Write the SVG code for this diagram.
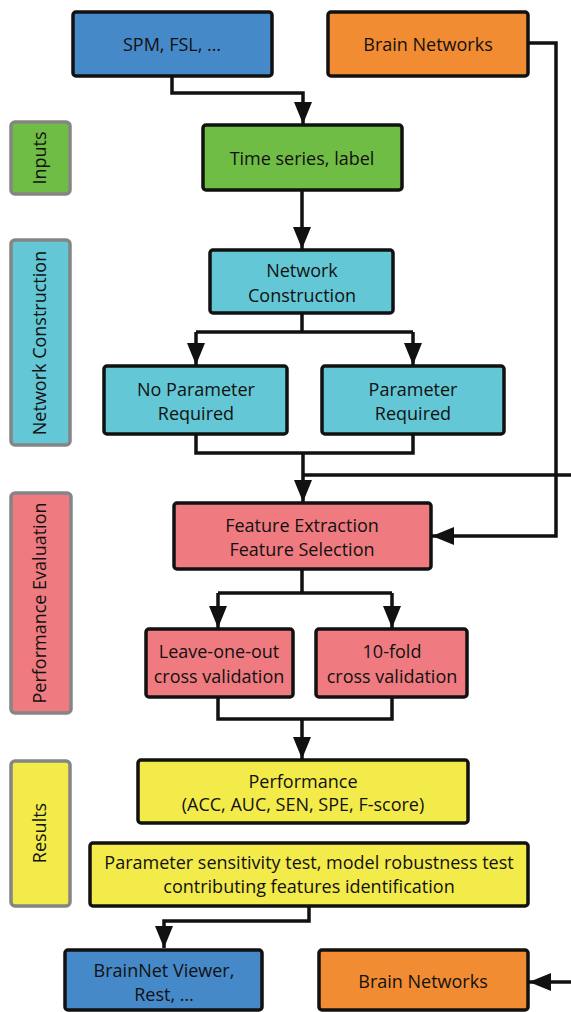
<svg xmlns="http://www.w3.org/2000/svg" width="571" height="1012" viewBox="0 0 571 1012">
<style>
.box{stroke:#111;stroke-width:3.5}
.side{stroke:#858585;stroke-width:3.5}
.blue{fill:#4689c8}
.orange{fill:#f28c33}
.green{fill:#70bd45}
.cyan{fill:#63c7d5}
.pink{fill:#ef7b80}
.yellow{fill:#f3eb4a}
text{font-family:"Open Sans","Liberation Sans",sans-serif;font-size:18px;fill:#111;text-anchor:middle}
.conn{fill:none;stroke:#111;stroke-width:3.5}
</style>
<defs>
<marker id="arr" markerUnits="userSpaceOnUse" markerWidth="22" markerHeight="18" refX="22" refY="9" orient="auto">
<path d="M0,0 L22,9 L0,18 z" fill="#111"/>
</marker>
</defs>
<rect width="571" height="1012" fill="#fff"/>
<g id="connectors">
<path class="conn" d="M172,76 V93 H303 V124" marker-end="url(#arr)"/>
<path class="conn" d="M528,43 H556 V536 H432" marker-end="url(#arr)"/>
<path class="conn" d="M302,190 V249" marker-end="url(#arr)"/>
<path class="conn" d="M302,313 V332"/>
<path class="conn" d="M196,332 H413"/>
<path class="conn" d="M196,332 V365" marker-end="url(#arr)"/>
<path class="conn" d="M413,332 V365" marker-end="url(#arr)"/>
<path class="conn" d="M196,434 V453 H413 V434"/>
<path class="conn" d="M303,453 V502" marker-end="url(#arr)"/>
<path class="conn" d="M303,475 H571"/>
<path class="conn" d="M302,569 V593"/>
<path class="conn" d="M218,593 H392"/>
<path class="conn" d="M218,593 V628" marker-end="url(#arr)"/>
<path class="conn" d="M392,593 V628" marker-end="url(#arr)"/>
<path class="conn" d="M218,697 V719 H392 V697"/>
<path class="conn" d="M302,719 V759" marker-end="url(#arr)"/>
<path class="conn" d="M309,906 V921 H164 V948" marker-end="url(#arr)"/>
<path class="conn" d="M571,982 H529" marker-end="url(#arr)"/>
</g>
<g id="side-inputs">
<rect class="side green" x="11" y="122" width="59" height="72" rx="4"/>
<text transform="translate(46,158) rotate(-90)">Inputs</text>
</g>
<g id="side-network-construction">
<rect class="side cyan" x="11" y="240" width="59" height="205" rx="4"/>
<text transform="translate(46,343) rotate(-90)">Network Construction</text>
</g>
<g id="side-performance-evaluation">
<rect class="side pink" x="11" y="493" width="60" height="220" rx="4"/>
<text transform="translate(46,603) rotate(-90)">Performance Evaluation</text>
</g>
<g id="side-results">
<rect class="side yellow" x="11" y="761" width="59" height="145" rx="4"/>
<text transform="translate(46,833) rotate(-90)">Results</text>
</g>
<g id="spm">
<rect class="box blue" x="73" y="12" width="199" height="64" rx="3"/>
<text x="172" y="51">SPM, FSL, …</text>
</g>
<g id="brain-networks-top">
<rect class="box orange" x="328" y="12" width="200" height="64" rx="3"/>
<text x="428" y="51">Brain Networks</text>
</g>
<g id="time-series">
<rect class="box green" x="203" y="125" width="199" height="65" rx="3"/>
<text x="302" y="165">Time series, label</text>
</g>
<g id="network-construction">
<rect class="box cyan" x="210" y="250" width="183" height="63" rx="3"/>
<text x="302" y="277">Network</text>
<text x="302" y="302">Construction</text>
</g>
<g id="no-parameter">
<rect class="box cyan" x="104" y="366" width="183" height="68" rx="3"/>
<text x="196" y="396">No Parameter</text>
<text x="196" y="420">Required</text>
</g>
<g id="parameter">
<rect class="box cyan" x="322" y="366" width="182" height="68" rx="3"/>
<text x="413" y="396">Parameter</text>
<text x="413" y="420">Required</text>
</g>
<g id="feature">
<rect class="box pink" x="174" y="503" width="257" height="66" rx="3"/>
<text x="302" y="532">Feature Extraction</text>
<text x="302" y="556">Feature Selection</text>
</g>
<g id="loo">
<rect class="box pink" x="146" y="629" width="147" height="68" rx="3"/>
<text x="219" y="658">Leave-one-out</text>
<text x="219" y="683">cross validation</text>
</g>
<g id="tenfold">
<rect class="box pink" x="316" y="629" width="151" height="68" rx="3"/>
<text x="392" y="658">10-fold</text>
<text x="392" y="683">cross validation</text>
</g>
<g id="performance">
<rect class="box yellow" x="138" y="760" width="330" height="63" rx="3"/>
<text x="303" y="788">Performance</text>
<text x="303" y="811">(ACC, AUC, SEN, SPE, F-score)</text>
</g>
<g id="sensitivity">
<rect class="box yellow" x="90" y="843" width="438" height="63" rx="3"/>
<text x="309" y="869">Parameter sensitivity test, model robustness test</text>
<text x="309" y="893">contributing features identification</text>
</g>
<g id="brainnet">
<rect class="box blue" x="65" y="950" width="197" height="60" rx="3"/>
<text x="164" y="977">BrainNet Viewer,</text>
<text x="164" y="1001">Rest, …</text>
</g>
<g id="brain-networks-bottom">
<rect class="box orange" x="319" y="950" width="209" height="60" rx="3"/>
<text x="423" y="988">Brain Networks</text>
</g>
</svg>
